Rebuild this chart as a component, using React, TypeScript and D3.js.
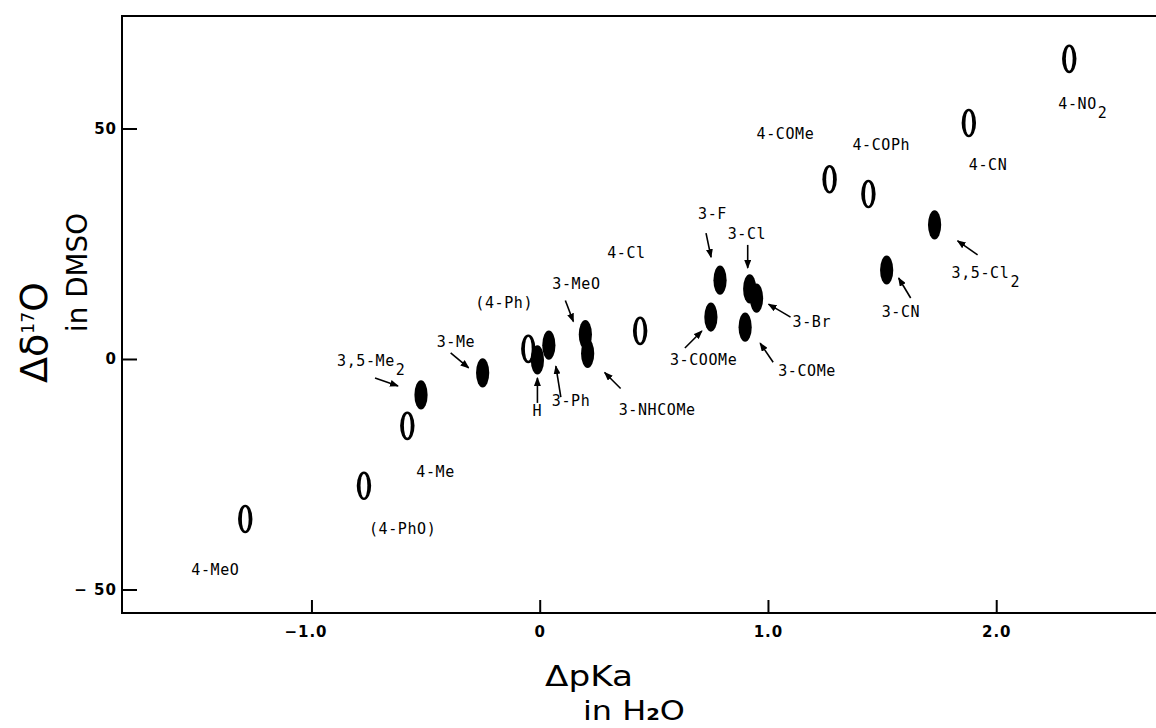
import React, { useRef, useEffect } from 'react';
import * as d3 from 'd3';

// substituents on the phenol ring; '_' marks a subscript
const substituents = [
  '4-MeO', '(4-PhO)', '4-Me', '3,5-Me_2', '3-Me', '(4-Ph)', 'H', '3-Ph', '3-MeO', '3-NHCOMe', '4-Cl',
  '3-COOMe', '3-F', '3-Cl', '3-Br', '3-COMe', '3-CN', '3,5-Cl_2', '4-COMe', '4-COPh', '4-CN', '4-NO_2',
];
// ΔpKa in H2O
const dpKa = [
  -1.29, -0.77, -0.58, -0.52, -0.25, -0.05, -0.01, 0.04, 0.2, 0.21, 0.44,
  0.75, 0.79, 0.92, 0.95, 0.9, 1.52, 1.73, 1.27, 1.44, 1.88, 2.32,
];
// Δδ 17O in DMSO
const dDelta = [
  -34.7, -27.5, -14.5, -7.8, -3.0, 2.2, -0.2, 3.0, 5.3, 1.2, 6.1,
  9.1, 17.1, 15.2, 13.2, 6.9, 19.3, 29.1, 39.0, 35.8, 51.2, 65.1,
];
// filled = meta / H, open = para
const filled = [
  false, false, false, true, true, false, true, true, true, true, false,
  true, true, true, true, true, true, true, false, false, false, false,
];

const xTicks = [-1, 0, 1, 2];
const xTickLabels = ['\u22121.0', '0', '1.0', '2.0'];
const yTicks = [50, 0, -50];
const yTickLabels = ['50', '0', '\u2212 50'];

// label placement relative to the point: [dx, dy] and optional arrow [x1, y1, x2, y2]
const labelOffsets: number[][] = [
  [-54, 56], [5, 48], [9, 51], [-84, -29], [-46, -26], [-53, -41], [-5, 56], [3, 61], [-33, -46], [31, 62], [-33, -73],
  [-41, 48], [-22, -61], [-22, -50], [36, 29], [33, 49], [-5, 47], [17, 53], [-73, -40], [-16, -44], [0, 47], [-11, 50],
];
const arrowOffsets: (number[] | null)[] = [
  null, null, null, [-46, -17, -23, -9], [-32, -20, -14, -5], null, [0, 43, 0, 18], [12, 52, 7, 21], [-20, -34, -12, -13], [33, 35, 17, 19], null,
  [-26, 31, -9, 14], [-14, -47, -9, -23], [-2, -44, -2, -21], [34, 19, 12, 6], [28, 35, 15, 16], [24, 28, 12, 8], [43, 30, 23, 16], null, null, null, null,
];

const W = 1156;
const H = 728;

const App = () => {
  const svgRef = useRef<SVGSVGElement>(null);

  useEffect(() => {
    document.body.style.margin = '0';
    const svg = d3.select(svgRef.current);
    svg.selectAll('*').remove();

    const left = 122, right = 1156, top = 16, bottom = 613;

    const x = d3.scaleLinear().domain([-1.83, 2.7]).range([left, right]);
    const y = d3.scaleLinear().domain([-55.1, 74.4]).range([bottom, top]);

    svg.append('defs')
      .append('marker')
      .attr('id', 'arrowhead')
      .attr('markerUnits', 'userSpaceOnUse')
      .attr('markerWidth', 9)
      .attr('markerHeight', 7)
      .attr('refX', 8)
      .attr('refY', 3.5)
      .attr('orient', 'auto')
      .append('path')
      .attr('d', 'M0,0 L9,3.5 L0,7 Z')
      .attr('fill', '#000');

    // frame
    svg.append('path')
      .attr('d', `M${right},${top} L${left},${top} L${left},${bottom} L${right},${bottom}`)
      .attr('fill', 'none')
      .attr('stroke', '#000')
      .attr('stroke-width', 2);

    // axes
    const xAxis = svg.append('g')
      .attr('transform', `translate(0,${bottom})`)
      .call(d3.axisBottom(x)
        .tickValues(xTicks)
        .tickSizeInner(-13)
        .tickSizeOuter(0)
        .tickPadding(13)
        .tickFormat((d, i) => xTickLabels[i]));

    const yAxis = svg.append('g')
      .attr('transform', `translate(${left},0)`)
      .call(d3.axisLeft(y)
        .tickValues(yTicks)
        .tickSizeInner(-15)
        .tickSizeOuter(0)
        .tickPadding(5)
        .tickFormat((d, i) => yTickLabels[i]));

    [xAxis, yAxis].forEach(axis => {
      axis.attr('font-size', 15).attr('font-family', '"DejaVu Sans", sans-serif');
      axis.select('.domain').remove();
      axis.selectAll('line').attr('stroke', '#000').attr('stroke-width', 2);
      axis.selectAll('text')
        .attr('fill', '#000')
        .attr('font-size', 15)
        .attr('font-weight', 'bold')
        .style('font-size', '15px')
        .style('letter-spacing', '1px');
    });
    xAxis.selectAll('text').attr('dx', (d, i) => (i === 0 ? -6 : 0));

    // axis titles
    const titleFont = '"DejaVu Sans", sans-serif';
    const yt = svg.append('text')
      .attr('transform', 'translate(47,383) rotate(-90)')
      .attr('font-family', titleFont)
      .attr('font-size', 38)
      .attr('textLength', 101)
      .attr('lengthAdjust', 'spacingAndGlyphs');
    yt.append('tspan').text('\u0394\u03b4');
    yt.append('tspan').attr('font-size', 17).attr('dy', -13).text('17');
    yt.append('tspan').attr('dy', 13).text('O');

    svg.append('text')
      .attr('transform', 'translate(87,332) rotate(-90)')
      .attr('font-family', titleFont)
      .attr('font-size', 29)
      .attr('textLength', 119)
      .attr('lengthAdjust', 'spacingAndGlyphs')
      .text('in DMSO');

    svg.append('text')
      .attr('x', 545)
      .attr('y', 686)
      .attr('font-family', titleFont)
      .attr('font-size', 28)
      .attr('textLength', 88)
      .attr('lengthAdjust', 'spacingAndGlyphs')
      .text('\u0394pKa');

    const xt2 = svg.append('text')
      .attr('x', 583)
      .attr('y', 720)
      .attr('font-family', titleFont)
      .attr('font-size', 26)
      .attr('textLength', 102)
      .attr('lengthAdjust', 'spacingAndGlyphs');
    xt2.append('tspan').text('in H');
    xt2.append('tspan').attr('font-size', 16).attr('font-weight', 'bold').text('2');
    xt2.append('tspan').text('O');

    const data = substituents.map((name, i) => ({
      name,
      px: x(dpKa[i]),
      py: y(dDelta[i]),
      filled: filled[i],
      lab: labelOffsets[i],
      arrow: arrowOffsets[i],
    }));

    const g = svg.append('g');

    // open markers (para) look like a typed zero
    const open = g.selectAll('.open').data(data.filter(d => !d.filled)).enter().append('g')
      .attr('transform', d => `translate(${d.px},${d.py})`);
    open.append('ellipse').attr('rx', 7.2).attr('ry', 14.3).attr('fill', '#000');
    open.append('ellipse').attr('rx', 3.4).attr('ry', 12).attr('fill', '#fff');

    g.selectAll('.solid').data(data.filter(d => d.filled)).enter().append('ellipse')
      .attr('cx', d => d.px)
      .attr('cy', d => d.py)
      .attr('rx', 6.6)
      .attr('ry', 14.6)
      .attr('fill', '#000');

    // arrows
    g.selectAll('.arrow').data(data.filter(d => d.arrow)).enter().append('line')
      .attr('x1', d => d.px + d.arrow![0])
      .attr('y1', d => d.py + d.arrow![1])
      .attr('x2', d => d.px + d.arrow![2])
      .attr('y2', d => d.py + d.arrow![3])
      .attr('stroke', '#000')
      .attr('stroke-width', 1.6)
      .attr('marker-end', 'url(#arrowhead)');

    // labels
    const labels = g.selectAll('.label').data(data).enter().append('text')
      .attr('x', d => d.px + d.lab[0])
      .attr('y', d => d.py + d.lab[1])
      .attr('font-family', '"DejaVu Sans Mono", monospace')
      .attr('font-size', 15)
      .attr('letter-spacing', 0.6)
      .attr('fill', '#000');
    labels.each(function (d) {
      const parts = d.name.split('_');
      const t = d3.select(this);
      t.append('tspan').text(parts[0]);
      if (parts[1]) t.append('tspan').attr('dy', 9).attr('dx', 1).text(parts[1]);
    });
  }, []);

  return (
    <svg
      ref={svgRef}
      width={W}
      height={H}
      style={{ display: 'block', background: '#fff' }}
    />
  );
};

export default App;
